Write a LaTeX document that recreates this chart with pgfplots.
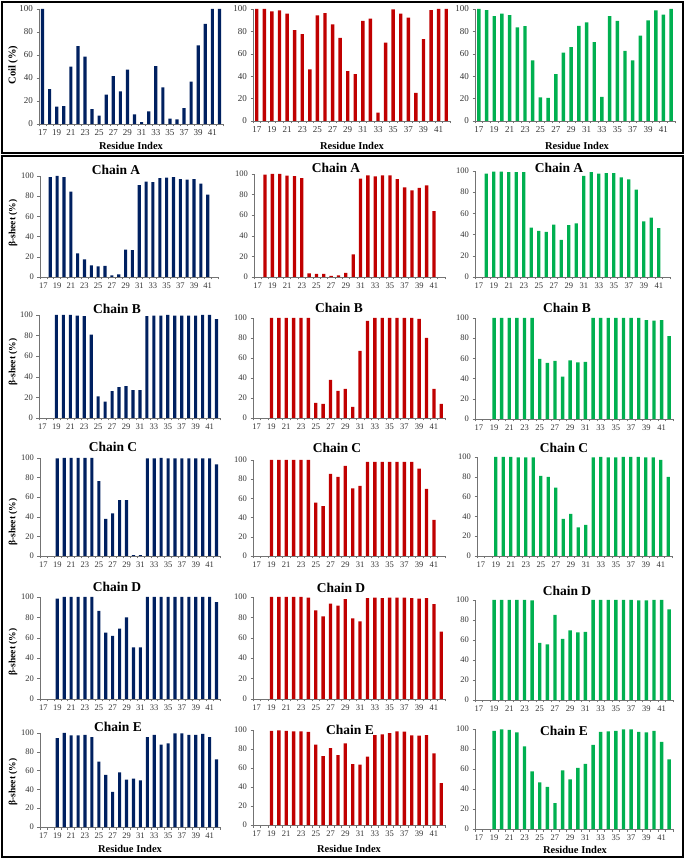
\documentclass[border=0pt]{standalone}
\usepackage{pgfplots}
\pgfplotsset{compat=1.18}
\usepackage{fontspec}
\setmainfont{Liberation Serif}
\definecolor{cblue}{RGB}{0,32,96}
\definecolor{cred}{RGB}{192,0,0}
\definecolor{cgreen}{RGB}{0,176,80}
\pgfplotsset{
  pan/.style={
    scale only axis, anchor=south west,
    ymin=0, ymax=100, xmin=16.5, xmax=42.5,
    ytick={0,20,40,60,80,100},
    xtick={17,19,...,41},
    minor xtick={16.5,17.5,...,42.5},
    major x tick style={draw=none},
    tick align=outside, major tick length=2.5pt, minor tick length=2.5pt,
    axis x line*=bottom, axis y line*=left,
    axis line style={black!55, line width=0.6pt, -},
    tick style={black!55, line width=0.5pt},
    minor x tick style={black!55, line width=0.5pt},
    tick label style={font=\fontsize{8.5}{9}\selectfont, text=black!80},
    /pgf/number format/assume math mode=true,
    ybar, bar width=0.45, bar shift=0pt,
    clip=false,
  },
  toprow/.style={tick label style={font=\fontsize{9}{10}\selectfont, text=black!80}},
}
\newcommand{\pnl}[7][]{%
  \begin{axis}[pan, #1, at={(#2pt,#3pt)}, width=#4pt, height=#5pt]
  \addplot[fill=#6, draw=none] coordinates {#7};
  \end{axis}}
\newcommand{\ttl}[3]{\node[font=\bfseries\fontsize{13.5}{15}\selectfont] at (#1,#2) {#3};}
\newcommand{\ylab}[3]{\node[rotate=90, font=\bfseries\fontsize{9.5}{11}\selectfont] at (#1,#2) {#3};}
\newcommand{\xlab}[2]{\node[font=\bfseries\fontsize{10.5}{12}\selectfont] at (#1,#2) {Residue Index};}
\begin{document}
\begin{tikzpicture}[x=1pt,y=1pt]
\useasboundingbox (0,0) rectangle (685,860);
% ---------- Coil row ----------
\pnl[toprow]{39}{736}{184}{115}{cblue}{(17,100)(18,30.4)(19,15)(20,15.6)(21,49.9)(22,67.8)(23,58.6)(24,13)(25,7.2)(26,25.5)(27,41.7)(28,28.4)(29,47.2)(30,8.4)(31,1.7)(32,11)(33,50.4)(34,31.9)(35,4.6)(36,4)(37,13.9)(38,36.8)(39,68.4)(40,87)(41,100)(42,100)}
\pnl[toprow]{253}{739}{197}{112}{cred}{(17,100)(18,100)(19,97.9)(20,98.8)(21,95.8)(22,81.2)(23,77.6)(24,46)(25,94.3)(26,96.4)(27,86.3)(28,74.3)(29,44.5)(30,41.8)(31,89.3)(32,91.3)(33,7.5)(34,70)(35,99.7)(36,95.8)(37,92.2)(38,25)(39,73)(40,99)(41,100)(42,100)}
\pnl[toprow]{475}{739}{200}{112}{cgreen}{(17,100)(18,99)(19,93.7)(20,95.8)(21,94.6)(22,83.5)(23,84.7)(24,54.2)(25,21)(26,20.7)(27,41.9)(28,61)(29,65.9)(30,85)(31,88)(32,70.4)(33,21.6)(34,93.7)(35,89.5)(36,62.6)(37,54.2)(38,76.3)(39,89.8)(40,98.8)(41,94.9)(42,100)}
\node[rotate=90, font=\bfseries\fontsize{10.5}{12}\selectfont] at (13,795) {Coil (\%)};
\xlab{131}{714}\xlab{352}{714}\xlab{577}{714}
% ---------- Chain A ----------
\pnl{40}{583}{178}{101}{cblue}{(18,99)(19,100)(20,99)(21,84.5)(22,23.5)(23,17.5)(24,11.5)(25,10.5)(26,11)(27,1.5)(28,2.5)(29,27)(30,26.5)(31,91)(32,94.5)(33,94)(34,98)(35,98.5)(36,99)(37,97)(38,96.5)(39,97)(40,92.5)(41,81.5)}
\pnl{254}{583}{191}{103}{cred}{(18,99.5)(19,100)(20,100)(21,98.5)(22,98)(23,96)(24,3.5)(25,3)(26,3)(27,1)(28,1.5)(29,4)(30,22)(31,95.4)(32,98.7)(33,97.7)(34,98.7)(35,98.7)(36,95)(37,87)(38,84)(39,86.6)(40,89)(41,64)}
\pnl{475}{583}{195}{106}{cgreen}{(18,97.5)(19,99.5)(20,99.5)(21,99)(22,99)(23,99)(24,46.5)(25,43.5)(26,42.5)(27,49.5)(28,35)(29,49)(30,50.5)(31,95.5)(32,99)(33,97.5)(34,98)(35,98)(36,94)(37,92)(38,82.5)(39,52.5)(40,56)(41,46)}
\ttl{116}{690}{Chain A}\ttl{336}{692}{Chain A}\ttl{559}{692}{Chain A}
\ylab{13}{637}{β-sheet (\%)}
% ---------- Chain B ----------
\pnl{39}{442}{181}{103}{cblue}{(19,100)(20,100)(21,100)(22,99.5)(23,99)(24,81)(25,21)(26,16)(27,26)(28,30)(29,31)(30,27)(31,27)(32,99)(33,99.5)(34,99.5)(35,100)(36,99.5)(37,99.5)(38,99.5)(39,99.5)(40,100)(41,100)(42,96)}
\pnl{253}{442}{192}{100}{cred}{(19,100)(20,100)(21,100)(22,100)(23,100)(24,100)(25,15)(26,14)(27,38)(28,27)(29,29)(30,11)(31,67)(32,97)(33,100)(34,100)(35,100)(36,100)(37,100)(38,100)(39,99)(40,80)(41,29)(42,14)}
\pnl{475}{441}{198}{101}{cgreen}{(19,100)(20,100)(21,100)(22,100)(23,100)(24,100)(25,59.5)(26,55.5)(27,57.5)(28,42)(29,58)(30,56)(31,56.5)(32,100)(33,100)(34,100)(35,100)(36,100)(37,100)(38,100)(39,98)(40,97.5)(41,98)(42,82)}
\ttl{117}{551.5}{Chain B}\ttl{339}{552}{Chain B}\ttl{567}{552}{Chain B}
\ylab{13}{498}{β-sheet (\%)}
% ---------- Chain C ----------
\pnl{40}{304}{180}{98}{cblue}{(19,99.5)(20,100)(21,100)(22,100)(23,100)(24,100)(25,76.5)(26,38)(27,43.5)(28,57)(29,57)(30,1)(31,1)(32,99.5)(33,99.5)(34,100)(35,99.5)(36,99.5)(37,99.5)(38,99.5)(39,99.5)(40,99.5)(41,99.5)(42,93.5)}
\pnl{253}{304}{192}{96}{cred}{(19,100)(20,100)(21,100)(22,100)(23,100)(24,100)(25,55.5)(26,52)(27,85.5)(28,82.5)(29,94)(30,70.5)(31,73)(32,98)(33,98)(34,98)(35,98)(36,98)(37,98)(38,98)(39,91)(40,70)(41,37.5)}
\pnl{477}{304}{195}{99}{cgreen}{(19,100)(20,100)(21,100)(22,99.5)(23,99.5)(24,99.5)(25,81)(26,80)(27,69)(28,37.5)(29,42.5)(30,29)(31,31.5)(32,99.5)(33,100)(34,99.5)(35,99.5)(36,100)(37,100)(38,100)(39,99.5)(40,99.5)(41,97)(42,80)}
\ttl{113}{413}{Chain C}\ttl{337}{412}{Chain C}\ttl{564}{412}{Chain C}
\ylab{13}{338}{β-sheet (\%)}
% ---------- Chain D ----------
\pnl{40}{161}{180}{102}{cblue}{(19,98.5)(20,100)(21,100)(22,100)(23,100)(24,100)(25,86.5)(26,65)(27,62)(28,69)(29,80)(30,50.5)(31,50.5)(32,100)(33,100)(34,100)(35,100)(36,100)(37,100)(38,100)(39,100)(40,100)(41,100)(42,95)}
\pnl{253}{161}{192}{102}{cred}{(19,100)(20,100)(21,100)(22,100)(23,100)(24,99.5)(25,87)(26,81)(27,93.5)(28,91.5)(29,98)(30,79)(31,76)(32,99)(33,99.5)(34,99)(35,99.5)(36,99.5)(37,99.5)(38,99)(39,98.5)(40,99)(41,93)(42,66)}
\pnl{475}{160}{198}{100}{cgreen}{(19,100)(20,100)(21,100)(22,100)(23,100)(24,99.5)(25,57)(26,55.5)(27,85)(28,61)(29,69.5)(30,67.5)(31,68)(32,100)(33,100)(34,100)(35,100)(36,100)(37,100)(38,99.5)(39,99.5)(40,100)(41,100)(42,90.5)}
\ttl{117}{273}{Chain D}\ttl{341}{272}{Chain D}\ttl{567}{269}{Chain D}
\ylab{13}{208}{β-sheet (\%)}
% ---------- Chain E ----------
\pnl{40}{33}{180}{94}{cblue}{(19,94.5)(20,100)(21,97.5)(22,97.5)(23,98)(24,95.5)(25,69.5)(26,55.5)(27,37.5)(28,58)(29,50.5)(30,51.5)(31,49.5)(32,95.5)(33,98)(34,87.5)(35,89)(36,99.5)(37,99.5)(38,98)(39,98)(40,99)(41,95.5)(42,72)}
\pnl{253}{35}{192}{95}{cred}{(19,99)(20,99.5)(21,99)(22,98.5)(23,98.5)(24,98)(25,84.5)(26,72.5)(27,81)(28,73.5)(29,86)(30,64)(31,63.5)(32,72)(33,94.5)(34,95.4)(35,96.8)(36,98.6)(37,98.2)(38,94.4)(39,94)(40,94.7)(41,75.4)(42,44)}
\pnl{475}{31}{198}{100}{cgreen}{(19,98)(20,99.5)(21,99)(22,96.5)(23,82.5)(24,57.5)(25,46.5)(26,42)(27,26)(28,58.5)(29,49.5)(30,61)(31,65)(32,84)(33,97)(34,97.5)(35,98)(36,99.5)(37,99.5)(38,97)(39,96.5)(40,98)(41,87)(42,69.5)}
\ttl{118}{133}{Chain E}\ttl{350}{130}{Chain E}\ttl{564}{129}{Chain E}
\ylab{13}{78}{β-sheet (\%)}
\xlab{130}{11}\xlab{349}{11}\xlab{575}{10}
% ---------- frames ----------
\draw[line width=2.2pt] (2,858) rectangle (683,707);
\draw[line width=2.2pt] (2,704) rectangle (683,3);
\end{tikzpicture}
\end{document}
